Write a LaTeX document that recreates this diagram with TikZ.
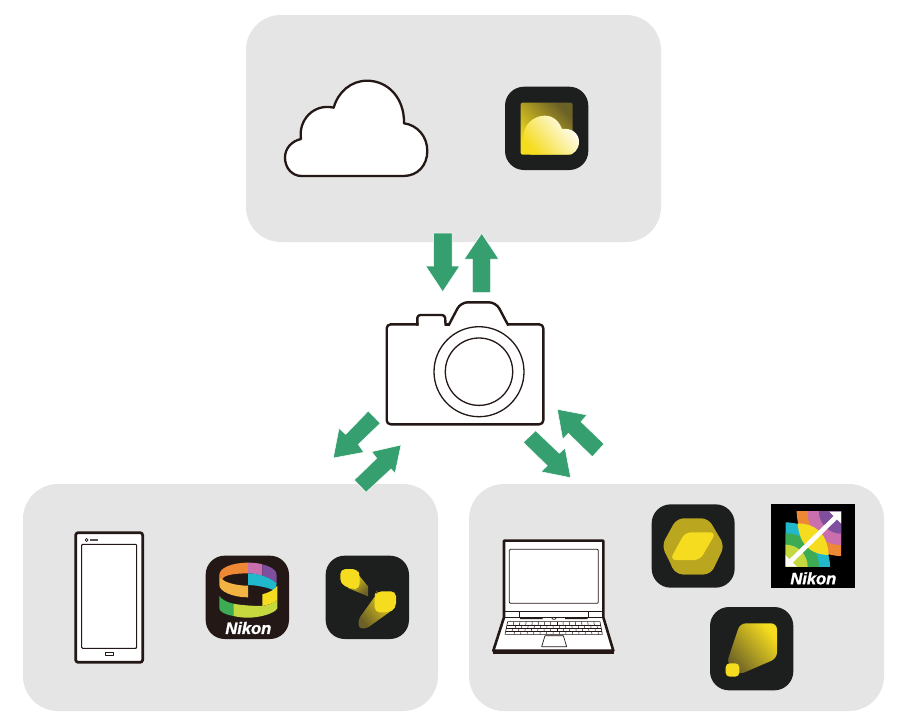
\documentclass[tikz,border=0pt]{standalone}
\usepackage{fontspec}
\setmainfont{Liberation Sans}
\newfontfamily\nikonfont[RawFeature={embolden=1.5}]{Liberation Sans Bold Italic}
\begin{document}
\begin{tikzpicture}[x=1pt,y=-1pt,line join=round]
\definecolor{panelgrey}{HTML}{E5E5E5}
\definecolor{flowgreen}{HTML}{369F6F}
\definecolor{inkline}{HTML}{231815}
\definecolor{appdark}{HTML}{1D1F1E}
\definecolor{nybrown}{HTML}{231815}
\definecolor{ny}{HTML}{F5DC1E}
\definecolor{olive}{HTML}{6B6026}
\definecolor{hexolive}{HTML}{BBA71F}
\tikzset{
  panelbox/.style={fill=panelgrey,rounded corners=35pt},
  flowarrow/.style={fill=flowgreen,draw=white,line width=0.5pt,miter limit=10,line join=miter},
  outlinebold/.style={draw=inkline,line width=2.4pt,fill=white},
  outlinethin/.style={draw=inkline,line width=1.3pt},
  appicon/.style={fill=appdark,rounded corners=19pt},
  nikonmark/.style={text=white,inner sep=0pt,font=\fontsize{16.5}{17}\selectfont\nikonfont}
}
\useasboundingbox (0,0) rectangle (907,726);
\fill[white] (0,0) rectangle (907,726);
% panels
\fill[panelbox] (246,15) rectangle (661,242);
\fill[panelbox] (23,484) rectangle (438,711);
\fill[panelbox] (469,484) rectangle (884,711);
% arrows
\path[flowarrow] (433.7,233) -- (452,233) -- (452,266) -- (459.7,266) -- (442.7,291.7) -- (425.7,266) -- (433.7,266) -- cycle;
\path[flowarrow] (472.3,292.7) -- (490.7,292.7) -- (490.7,259) -- (498.7,259) -- (481.7,233.3) -- (464.3,259) -- (472.3,259) -- cycle;
\path[flowarrow] (368.3,411) -- (380.3,423.3) -- (358.3,444.3) -- (363.7,452.3) -- (333.3,458) -- (339,428.3) -- (345.7,434.3) -- cycle;
\path[flowarrow] (354.3,480) -- (366,492.3) -- (391,469) -- (395,473.3) -- (401,445) -- (371.7,451.7) -- (376.7,458.3) -- cycle;
\path[flowarrow] (523.3,442.3) -- (535.7,430.7) -- (559.3,453.3) -- (565,448) -- (570.7,477.7) -- (541,471.7) -- (547.3,465.7) -- cycle;
\path[flowarrow] (604,444) -- (592.3,456.7) -- (568.3,433.3) -- (562.7,439.3) -- (557.3,409.3) -- (587,415) -- (581,421.7) -- cycle;
% camera
\fill[white] (386.7,324.3) -- (417.3,324.3) -- (417.3,315) -- (445,315) -- (445,324.3) -- (449,324.3) -- (460.7,302.3) -- (496,302.3) -- (507.7,324.3) -- (543.3,324.3) -- (543.3,424.3) -- (386.7,424.3) -- cycle;
\draw[outlinebold,fill=none,rounded corners=4pt] (418.5,324.3) -- (386.7,324.3) -- (386.7,424.3) -- (543.3,424.3) -- (543.3,324.3) -- (507,324.3);
\draw[outlinebold,fill=none,rounded corners=3pt] (417.3,325.5) -- (417.3,315) -- (445,315) -- (445.6,325.5);
\draw[outlinebold,fill=none] (444.5,324.3) -- (450,324.3);
\draw[outlinebold,fill=none,rounded corners=7pt] (448.5,325.5) -- (460.7,302.3) -- (496,302.3) -- (508.3,325.5);
\draw[outlinethin] (479,371.7) circle [radius=45];
\draw[outlinethin] (479,371.7) circle [radius=33.7];
% cloud
\draw[outlinebold,line width=2.3pt] (301.7,176) -- (403.3,176)
  .. controls (418,176) and (427.3,165) .. (427.3,151)
  .. controls (427.3,136) and (417,125) .. (404,123.3)
  .. controls (404.5,98) and (388,80.7) .. (367,80.7)
  .. controls (351,80.7) and (338,92) .. (333.7,107.7)
  .. controls (314,103) and (298,120) .. (301,139)
  .. controls (292,141) and (285,148) .. (285,157.5)
  .. controls (285,168) and (292,176) .. (301.7,176) -- cycle;
% cloud app
\fill[appicon] (505,86.7) rectangle (588.3,170);
\begin{scope}[shift={(490,80)},scale=1/3]
  \path[rounded corners=2pt,top color=ny,bottom color=olive,shading angle=135] (92,68) rectangle (248,224);
  \path[top color=white,middle color=ny!30!white,bottom color=ny,shading angle=-50] (125,224)
    .. controls (108,224) and (100,205) .. (100,170)
    .. controls (100,135) and (130,107) .. (165,107)
    .. controls (190,107) and (208,125) .. (216,147)
    .. controls (245,143) and (267,160) .. (267,185)
    .. controls (267,210) and (250,224) .. (235,224) -- cycle;
\end{scope}
% phone
\begin{scope}[shift={(60,520)},scale=1/3]
  \draw[outlinebold,line width=2.7pt,rounded corners=2.5pt] (47,38) rectangle (248,427);
  \draw[outlinethin,line width=1.1pt,rounded corners=1pt,fill=white] (65,73) rectangle (230,385);
  \draw[inkline,line width=0.8pt] (80,60) circle [radius=4.5];
  \fill[inkline!75] (90,58) rectangle (113,63);
  \draw[outlinethin,line width=0.9pt] (135,396) rectangle (160,406);
  % SnapBridge icon
  \fill[nybrown,rounded corners=19pt] (437,107) rectangle (687,357);
  \definecolor{bandorange}{HTML}{EF8835}
  \fill[bandorange] (478,165) .. controls (478,143) and (517,128) .. (564,128) -- (564,160) .. controls (525,160) and (490,165) .. (487,178) .. controls (480,173) and (478,170) .. (478,165) -- cycle;
  \fill[fill={rgb,255:red,201;green,111;blue,174}] (564,128) .. controls (578,128) and (593,129) .. (607,133) -- (607,168) .. controls (593,163) and (578,160) .. (564,160) -- cycle;
  \fill[fill={rgb,255:red,127;green,79;blue,158}] (607,133) .. controls (633,140) and (650,150) .. (650,165) -- (650,190) .. controls (640,180) and (625,173) .. (607,168) -- cycle;
  \fill[fill={rgb,255:red,34;green,184;blue,204}] (564,160) .. controls (590,160) and (628,170) .. (650,190) .. controls (650,197) and (647,205) .. (642,211) .. controls (625,203) and (590,195) .. (564,195) -- cycle;
  \fill[fill={rgb,255:red,243;green,179;blue,66}] (478,165) .. controls (478,170) and (480,174) .. (487,178) .. controls (497,188) and (530,197) .. (564,197) -- (564,232) .. controls (520,232) and (478,215) .. (478,195) -- cycle;
  \fill[ny] (607,223) .. controls (625,218) and (645,210) .. (652,197) -- (652,240) .. controls (645,248) and (625,255) .. (607,258) -- cycle;
  \fill[fill={rgb,255:red,61;green,171;blue,83}] (478,228) .. controls (485,238) and (500,247) .. (520,251) -- (520,288) .. controls (495,283) and (478,275) .. (478,265) -- cycle;
  \fill[fill={rgb,255:red,197;green,216;blue,62}] (520,251) .. controls (545,256) and (580,258) .. (607,258) .. controls (625,255) and (645,248) .. (652,240) -- (652,265) .. controls (645,280) and (600,293) .. (564,293) .. controls (548,293) and (533,291) .. (520,288) -- cycle;
  \node[nikonmark] (snapnikon) at (565,324) {Nikon};
  % NX MobileAir icon
  \fill[appicon] (797,107) rectangle (1047,357);
  \path[top color=ny,bottom color=olive,shading angle=40] (880,150) -- (899,169) -- (924,199) -- (924,229) -- (864,204) -- cycle;
  \fill[ny,rounded corners=5pt] (841,147) -- (893,147) -- (899,165) -- (899,207) -- (875,207) -- (841,192) -- cycle;
  \path[top color=ny,bottom color=olive,shading angle=-50,rounded corners=3pt] (955,215) -- (1008,262) -- (919,326) -- (896,324) -- (896,297) -- cycle;
  \fill[ny,rounded corners=5pt] (950,214) -- (1008,214) -- (1008,265) -- (985,277) -- (944,277) -- (944,225) -- cycle;
\end{scope}
% right panel icons
\begin{scope}[shift={(640,495)},scale=1/3]
  % NX Studio
  \fill[appicon] (35,28) rectangle (284,278);
  \fill[hexolive,rounded corners=7pt] (110,70) -- (205,70) -- (253,152) -- (212,238) -- (108,238) -- (65,152) -- cycle;
  \path[top color=hexolive,middle color=olive,bottom color=hexolive,shading angle=40,rounded corners=7pt] (228,112) -- (253,152) -- (212,238) -- (108,238) -- (85,195) -- cycle;
  \fill[ny,rounded corners=6pt] (135,112) -- (228,112) -- (180,195) -- (90,195) -- cycle;
  % square icon
  \fill[black] (394,28) rectangle (645,278);
  \definecolor{fanteal}{HTML}{22B8CC}
  \definecolor{fangreen}{HTML}{3DAB53}
  \definecolor{fanlime}{HTML}{C5D83E}
  \definecolor{fanorange}{HTML}{EF8835}
  \definecolor{fanpink}{HTML}{C96FAE}
  \definecolor{fanpurple}{HTML}{7F4F9E}
  \begin{scope}
    \clip (437,82) rectangle (570,215);
    \fill[fanteal] (437,215) circle [radius=133];
    \fill[fangreen] (437,215) circle [radius=100];
    \fill[fanlime] (437,215) circle [radius=66];
  \end{scope}
  \begin{scope}
    \clip (470,50) rectangle (603,183);
    \fill[fanorange] (603,50) circle [radius=133];
    \fill[fanpink] (603,50) circle [radius=100];
    \fill[fanpurple] (603,50) circle [radius=66];
  \end{scope}
  \fill[ny] (473,85) .. controls (478,146.7) and (509,178.3) .. (566,180) .. controls (562.3,118.3) and (531,86.7) .. (473,85) -- cycle;
  \fill[white] (603,50) -- (568,50) -- (581,63) -- (448,193) -- (437,181) -- (437,215) -- (471,215) -- (458,203) -- (591,73) -- (603,85) -- cycle;
  \node[nikonmark] (fieldnikon) at (520,250) {Nikon};
  % tether icon
  \fill[appicon] (210,336) rectangle (460,586);
  \path[top color=ny,bottom color=olive,shading angle=-50,rounded corners=6pt] (300,385) -- (411,385) -- (411,490) -- (295,540) -- (260,505) -- cycle;
  \fill[ny,rounded corners=4pt] (257,505) rectangle (298,545);
\end{scope}
% laptop
\begin{scope}[shift={(485,530)},scale=1/3]
  \draw[draw=inkline,line width=2.6pt,fill=white] (57,262) -- (57,32) -- (355,32) -- (355,262) -- (385,362) -- (25,362) -- cycle;
  \draw[draw=inkline,line width=3pt] (23,367) -- (387,367);
  \draw[inkline,line width=0.8pt,rounded corners=1pt] (73,58) rectangle (340,220);
  \draw[inkline,line width=0.6pt] (57,243) -- (355,243) (57,262) -- (355,262) (103,243) -- (103,262) (310,243) -- (310,262);
  \fill[inkline] (105,262) rectangle (173,267) (240,262) rectangle (308,267);
  \draw[inkline,line width=0.7pt] (207,265) ellipse [x radius=6,y radius=3];
  \draw[inkline,line width=0.6pt] (68,275) -- (345,275) -- (352,313) -- (60,313) -- cycle;
  \foreach \yy/\off in {284.5/0,294/6,303.5/3}{
    \pgfmathsetmacro{\xl}{68-(\yy-275)*8/38}
    \pgfmathsetmacro{\xr}{345+(\yy-275)*7/38}
    \draw[inkline,line width=0.5pt] (\xl,\yy) -- (\xr,\yy);
  }
  \foreach \row/\yt/\yb in {0/275/284.5,1/284.5/294,2/294/303.5,3/303.5/313}{
    \foreach \k in {1,...,14}{
      \pgfmathsetmacro{\xt}{68-(\yt-275)*8/38+(\k+mod(\row,2)*0.4)*(277+(\yt-275)*15/38)/15}
      \pgfmathsetmacro{\xb}{68-(\yb-275)*8/38+(\k+mod(\row,2)*0.4)*(277+(\yb-275)*15/38)/15}
      \draw[inkline,line width=0.5pt] (\xt,\yt) -- (\xb,\yb);
    }
  }
  \draw[inkline,line width=0.7pt] (180,317) -- (235,317) -- (245,350) -- (170,350) -- cycle;
  \fill[inkline!70] (180,311) rectangle (235,319);
\end{scope}
\end{tikzpicture}
\end{document}
